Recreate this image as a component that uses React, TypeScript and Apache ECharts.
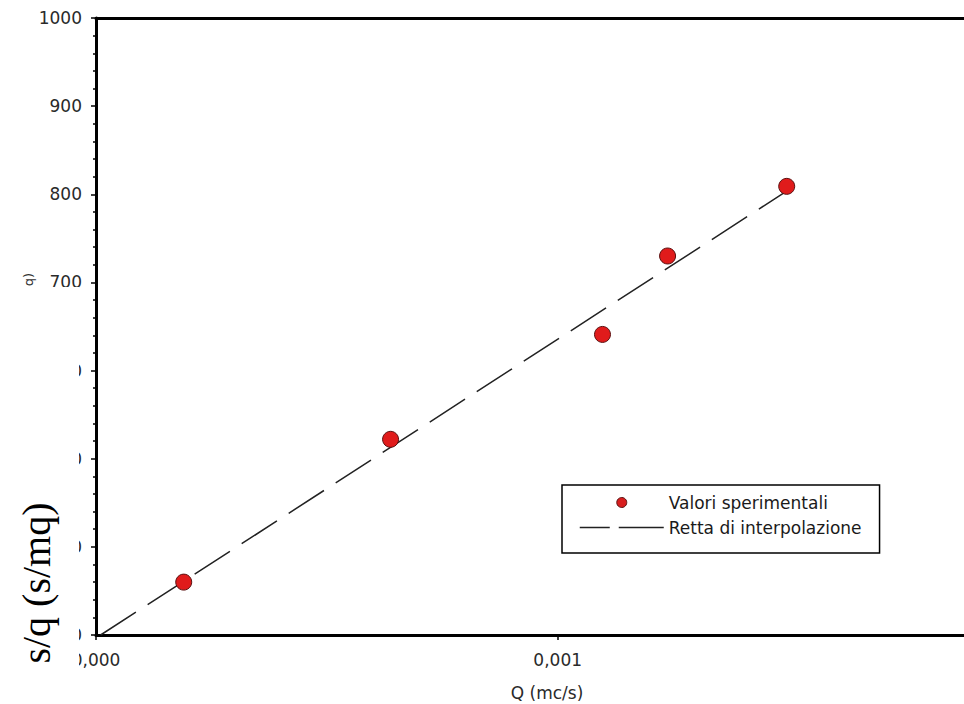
import React, { useEffect, useRef } from 'react';
import * as echarts from 'echarts';

// Experimental values: flow rate Q (m³/s) and specific drawdown s/q (s/m²)
const flowRates = [0.00019, 0.000638, 0.001097, 0.001238, 0.001496];
const specificDrawdown = [360, 522, 641, 730, 809];

// Interpolation line end points
const fitQ = [0.00001, 0.0015];
const fitS = [300, 805];

// Axis ranges
const xMin = 0;
const xMax = 0.00188;
const xStep = 0.001;
const yMin = 300;
const yMax = 1000;
const yStep = 100;

const seriesNames = ['Valori sperimentali', 'Retta di interpolazione'];
const xAxisTitle = 'Q (mc/s)';
const yAxisTitle = 's/q (s/mq)';

const FONT = 'DejaVu Sans';

export default function App() {
  const ref = useRef<HTMLDivElement>(null);

  useEffect(() => {
    document.body.style.margin = '0';
    if (!ref.current) return;
    const chart = echarts.init(ref.current, undefined, { renderer: 'svg' });

    const scatterData = flowRates.map((q, i) => [q, specificDrawdown[i]]);
    const lineData = fitQ.map((q, i) => [q, fitS[i]]);

    chart.setOption({
      animation: false,
      backgroundColor: '#ffffff',
      grid: {
        left: 96,
        top: 18,
        right: 0,
        bottom: 69,
        containLabel: false,
        outerBoundsMode: 'none',
      },
      legend: {
        orient: 'vertical',
        left: 562,
        top: 485,
        itemWidth: 84,
        itemHeight: 10,
        itemGap: 8,
        padding: [9, 18, 17, 17],
        borderColor: '#000000',
        borderWidth: 1.5,
        backgroundColor: '#ffffff',
        textStyle: { fontFamily: FONT, fontSize: 17, color: '#1a1a1a' },
        data: [
          {
            name: seriesNames[0],
            icon: 'circle',
            itemStyle: { color: '#d81e1e', borderColor: '#5a1010', borderWidth: 1 },
          },
          {
            name: seriesNames[1],
            itemStyle: { opacity: 0, color: 'transparent', borderWidth: 0 },
            lineStyle: { color: '#222222', width: 1.5, type: [30, 9, 60, 1] },
          },
        ],
      },
      xAxis: [
        {
          type: 'value',
          min: xMin,
          max: xMax,
          interval: xStep,
          position: 'bottom',
          axisLine: { show: true, onZero: false, lineStyle: { color: '#000', width: 3 } },
          axisTick: { show: true, length: 5, lineStyle: { color: '#000', width: 1.5 } },
          axisLabel: {
            margin: 16,
            showMaxLabel: false,
            fontFamily: FONT,
            fontSize: 17,
            color: '#2a2a2a',
            formatter: (v: number) => v.toFixed(3).replace('.', ','),
          },
          splitLine: { show: false },
        },
        {
          type: 'value',
          min: xMin,
          max: xMax,
          position: 'top',
          axisLine: { show: true, onZero: false, lineStyle: { color: '#000', width: 3 } },
          axisTick: { show: false },
          axisLabel: { show: false },
          splitLine: { show: false },
        },
      ],
      yAxis: {
        type: 'value',
        min: yMin,
        max: yMax,
        interval: yStep,
        axisLine: { show: true, onZero: false, lineStyle: { color: '#000', width: 3 } },
        axisTick: { show: true, length: 5, lineStyle: { color: '#000', width: 1.5 } },
        minorTick: { show: true, splitNumber: 5, length: 3, lineStyle: { color: '#000', width: 1.5 } },
        axisLabel: {
          margin: 14,
          fontFamily: FONT,
          fontSize: 17,
          color: '#2a2a2a',
          formatter: (v: number) => String(v),
        },
        splitLine: { show: false },
      },
      series: [
        {
          name: seriesNames[0],
          type: 'scatter',
          data: scatterData,
          symbol: 'circle',
          symbolSize: 16,
          z: 5,
          itemStyle: { color: '#e01b1b', borderColor: '#5a1010', borderWidth: 1, opacity: 1 },
        },
        {
          name: seriesNames[1],
          type: 'line',
          data: lineData,
          symbol: 'none',
          showSymbol: false,
          z: 3,
          itemStyle: { color: '#222222' },
          lineStyle: { color: '#222222', width: 1.5, type: [42, 14] },
        },
      ],
      graphic: [
        {
          type: 'text',
          z: 50,
          x: 28,
          y: 273,
          rotation: Math.PI / 2,
          style: {
            text: yAxisTitle,
            fontFamily: FONT,
            fontSize: 13,
            fill: '#333',
            align: 'right',
            verticalAlign: 'middle',
          },
        },
        {
          type: 'rect',
          z: 60,
          shape: { x: 0, y: 287, width: 79, height: 400 },
          style: { fill: '#ffffff' },
        },
        {
          type: 'text',
          z: 70,
          x: 36,
          y: 583,
          rotation: Math.PI / 2,
          style: {
            text: yAxisTitle,
            fontFamily: 'Liberation Serif',
            fontSize: 40,
            fill: '#000',
            align: 'center',
            verticalAlign: 'middle',
          },
        },
        {
          type: 'text',
          z: 70,
          x: 547,
          y: 693,
          style: {
            text: xAxisTitle,
            fontFamily: FONT,
            fontSize: 17,
            fill: '#2a2a2a',
            align: 'center',
            verticalAlign: 'middle',
          },
        },
      ],
    });

    return () => chart.dispose();
  }, []);

  return <div ref={ref} style={{ width: 964, height: 704 }} />;
}
